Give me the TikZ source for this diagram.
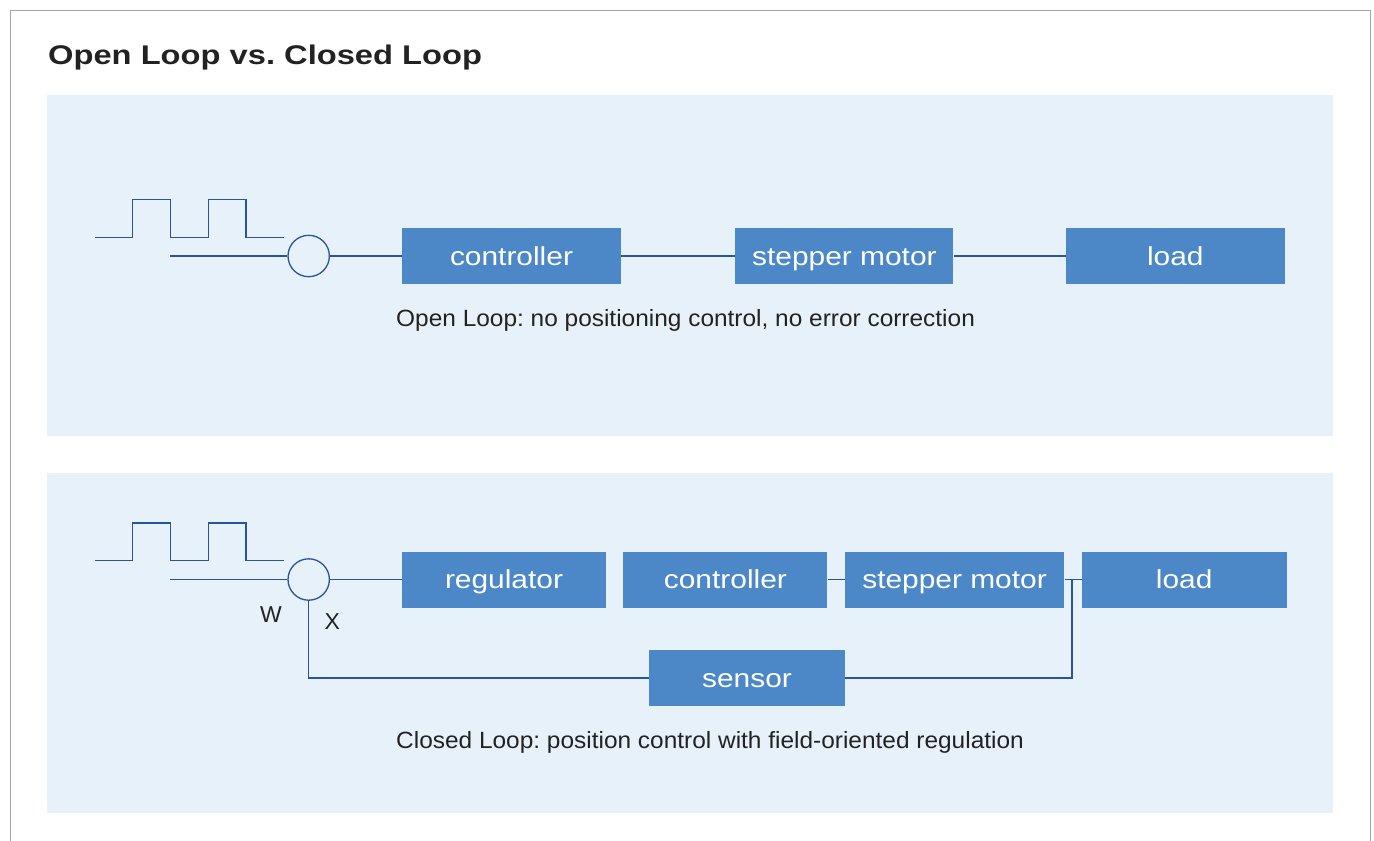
\documentclass[tikz,border=0pt]{standalone}
\usepackage{fontspec}
\setmainfont{Liberation Sans}
\newfontfamily\boxfont[FakeStretch=1.15]{Liberation Sans}
\newfontfamily\titlefont[FakeStretch=1.21]{Liberation Sans}
\newfontfamily\capfont[FakeStretch=1.04]{Liberation Sans}
\usetikzlibrary{positioning}
\frenchspacing
\definecolor{panelbg}{HTML}{E7F1FA}
\definecolor{boxblue}{HTML}{4C88C7}
\definecolor{wireblue}{HTML}{24559E}
\definecolor{framegray}{HTML}{A6A6A6}
\definecolor{inktext}{HTML}{222222}
\tikzset{
  block/.style={fill=boxblue, text=white, minimum height=56pt, inner sep=0pt,
    text height=18pt, text depth=0pt, font=\boxfont\fontsize{26}{26}\selectfont},
  sumpt/.style={circle, draw=wireblue, fill=panelbg, line width=1.3pt,
    minimum size=41.4pt, inner sep=0pt},
  wire/.style={draw=wireblue, line width=1.3pt},
  caption/.style={anchor=base west, inner sep=0pt, text=inktext,
    font=\capfont\fontsize{23.5}{23.5}\selectfont},
  letter/.style={anchor=base west, inner sep=0pt, text=inktext,
    font=\fontsize{23}{23}\selectfont},
}

\begin{document}
\begin{tikzpicture}[x=1pt, y=-1pt]

    \useasboundingbox (0,0) rectangle (1374,841);

    % frame and panels
    \draw[framegray, line width=1pt] (10,841) -- (10,10) -- (1370,10) -- (1370,841);
    \fill[panelbg] (47,95) rectangle (1333,436);
    \fill[panelbg] (47,473) rectangle (1333,813);

    \node[anchor=base west, inner sep=0pt, text=inktext,
        font=\titlefont\bfseries\fontsize{27}{27}\selectfont] (title) at (48,64.3)
        {Open Loop vs. Closed Loop};

    % pulse trains: {base y/high y}
    \foreach \yb/\yh in {237.7/199.8, 560.7/523} {
        \draw[wire] (95,\yb) -- (132.3,\yb) -- (132.3,\yh) -- (170.3,\yh)
            -- (170.3,\yb) -- (208.3,\yb) -- (208.3,\yh) -- (246,\yh)
            -- (246,\yb) -- (283.7,\yb);
    }

    % open loop
    \coordinate (inA) at (170,256);
    \node[sumpt] (sumA) at (308.7,256) {};
    \node[block, minimum width=219pt] (ctrlA) at (511.5,256) {controller};
    \node[block, minimum width=218pt, right=114pt of ctrlA] (stepA) {stepper motor};
    \node[block, minimum width=219pt, right=112pt of stepA] (loadA) {load};
    \draw[wire] (inA) -- (sumA) -- (ctrlA) -- (stepA) -- (loadA);

    \node[caption] (noteA) at (396,326)
        {Open Loop: no positioning control, no error correction};

    % closed loop
    \coordinate (inB) at (170,579.5);
    \node[sumpt] (sumB) at (308.7,579.5) {};
    \node[block, minimum width=204pt] (reg) at (504,579.5) {regulator};
    \node[block, minimum width=204pt, right=17pt of reg] (ctrlB) {controller};
    \node[block, minimum width=219.5pt, right=17pt of ctrlB] (stepB) {stepper motor};
    \node[block, minimum width=205pt, right=17pt of stepB] (loadB) {load};
    \node[block, minimum width=196pt] (sensor) at (747,678) {sensor};
    \coordinate (tap) at (1072,579.5);

    \draw[wire] (inB) -- (sumB) -- (reg);
    \draw[wire] (ctrlB) -- (stepB) -- (loadB);
    \draw[wire] (tap) |- (sensor);
    \draw[wire] (sensor) -| (sumB);

    \node[letter] (wlab) at (260,622.3) {W};
    \node[letter] (xlab) at (324.3,629.3) {X};

    \node[caption] (noteB) at (396,748)
        {Closed Loop: position control with field-oriented regulation};

\end{tikzpicture}
\end{document}
